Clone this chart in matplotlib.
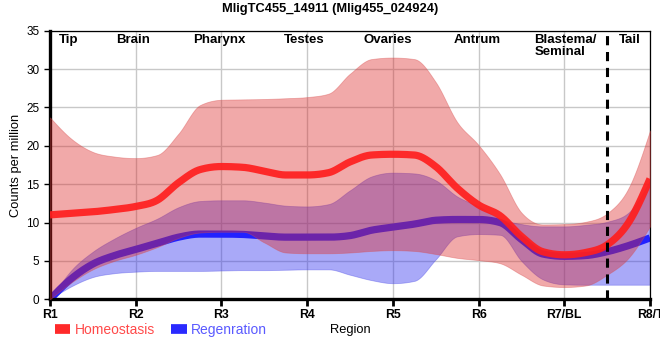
import numpy as np
import matplotlib
matplotlib.use("Agg")
import matplotlib.pyplot as plt
from matplotlib.lines import Line2D

plt.rcParams['font.family'] = ['Liberation Sans', 'DejaVu Sans']

title = "MligTC455_14911 (Mlig455_024924)"
regions = ["R1", "R2", "R3", "R4", "R5", "R6", "R7/BL", "R8/T"]
tissues = ["Tip", "Brain", "Pharynx", "Testes", "Ovaries", "Antrum", "Blastema/\nSeminal", "Tail"]
tissue_pos = [0.22, 0.97, 1.98, 2.96, 3.94, 4.98, 5.65, 6.77]

# sampled positions along the body axis (region units)
pos = np.arange(0, 7.001, 0.25)

homeo_mean = [11.0, 11.2, 11.4, 11.7, 12.1, 12.9, 15.2, 16.9, 17.3, 17.2, 16.7, 16.2, 16.2, 16.5,
              17.9, 18.8, 18.9, 18.8, 17.3, 14.5, 12.3, 10.9, 8.2, 6.2, 5.8, 6.1, 7.1, 10.0, 15.7]
homeo_upper = [23.7, 20.9, 19.2, 18.6, 18.4, 18.8, 21.6, 25.3, 26.0, 26.05, 26.1, 26.2, 26.35, 26.8,
               29.4, 31.3, 31.5, 31.3, 28.3, 23.1, 20.1, 16.3, 11.3, 9.75, 9.8, 10.1, 11.2, 14.5, 22.0]
homeo_lower = [0.0, 2.2, 3.9, 5.0, 5.8, 6.8, 8.0, 8.7, 8.8, 8.8, 7.4, 6.1, 6.0, 6.0,
               6.1, 6.3, 6.4, 6.3, 5.9, 5.4, 5.1, 4.7, 3.2, 1.8, 1.6, 1.8, 3.2, 5.4, 9.5]

regen_mean = [0.0, 2.7, 4.6, 5.7, 6.5, 7.3, 8.1, 8.5, 8.5, 8.45, 8.25, 8.1, 8.1, 8.1,
              8.3, 9.0, 9.4, 9.8, 10.3, 10.4, 10.4, 10.0, 7.8, 5.9, 5.6, 5.7, 6.2, 7.0, 8.0]
regen_upper = [0.0, 3.8, 6.2, 7.9, 9.3, 10.5, 12.0, 12.8, 12.9, 12.9, 12.6, 12.2, 12.1, 12.4,
               14.2, 16.0, 16.5, 16.4, 15.5, 13.4, 12.1, 10.5, 9.8, 9.5, 9.5, 9.7, 10.1, 11.3, 15.5]
regen_lower = [0.0, 1.7, 2.9, 3.4, 3.6, 3.7, 3.7, 3.7, 3.75, 3.8, 3.8, 3.85, 3.9, 3.9,
               3.2, 2.5, 2.1, 2.4, 5.2, 8.2, 8.5, 8.4, 5.0, 2.6, 1.95, 1.9, 1.9, 1.9, 1.9]


def monotone(x, y, xs):
    x = np.asarray(x, float); y = np.asarray(y, float)
    h = np.diff(x); s = np.diff(y) / h
    n = len(x); m = np.zeros(n)
    for i in range(1, n - 1):
        p = (s[i - 1] * h[i] + s[i] * h[i - 1]) / (h[i - 1] + h[i])
        m[i] = (np.sign(s[i - 1]) + np.sign(s[i])) * min(abs(s[i - 1]), abs(s[i]), 0.5 * abs(p))
    m[0] = (3 * s[0] - m[1]) / 2
    m[-1] = (3 * s[-1] - m[-2]) / 2
    idx = np.clip(np.searchsorted(x, xs) - 1, 0, n - 2)
    t = (xs - x[idx]) / h[idx]
    h00 = 2 * t**3 - 3 * t**2 + 1; h10 = t**3 - 2 * t**2 + t
    h01 = -2 * t**3 + 3 * t**2; h11 = t**3 - t**2
    return h00 * y[idx] + h10 * h[idx] * m[idx] + h01 * y[idx + 1] + h11 * h[idx] * m[idx + 1]


xs = np.linspace(0, 7, 1400)

fig = plt.figure(figsize=(6.6, 3.6), dpi=100)
ax = fig.add_axes([50 / 660, 1 - 299.3 / 360, 600 / 660, 268.6 / 360])

red_fill = (220 / 255, 40 / 255, 40 / 255)
blue_fill = (50 / 255, 50 / 255, 240 / 255)

ax.fill_between(xs, monotone(pos, regen_lower, xs), monotone(pos, regen_upper, xs),
                facecolor=blue_fill, alpha=0.42, edgecolor=(0.3, 0.3, 0.9, 0.5), lw=0.6, zorder=1)
ax.plot(xs, monotone(pos, regen_mean, xs), color="#2222ff", lw=5.2, zorder=2,
        solid_capstyle='butt')
ax.fill_between(xs, monotone(pos, homeo_lower, xs), monotone(pos, homeo_upper, xs),
                facecolor=red_fill, alpha=0.4, edgecolor=(0.85, 0.3, 0.3, 0.5), lw=0.6, zorder=3)
ax.plot(xs, monotone(pos, homeo_mean, xs), color="#ff1e1e", lw=5.2, alpha=0.92, zorder=4,
        solid_capstyle='butt')

ax.axvline(6.5, color='black', lw=2.2, ls=(0, (3, 2.2)), zorder=5)

ax.set_xlim(0, 7)
ax.set_ylim(0, 35)
ax.set_xticks(range(len(regions)))
ax.set_xticklabels(regions, fontweight='bold', fontsize=8.8)
ax.set_yticks(range(0, 36, 5))
ax.tick_params(axis='y', labelsize=8.5, length=4, width=1)
ax.tick_params(axis='x', length=5, width=2, pad=2)
ax.grid(True, color='#c8c8c8', lw=1)
ax.set_axisbelow(True)

for side in ['left', 'bottom']:
    ax.spines[side].set_linewidth(2.4)
for side in ['top', 'right']:
    ax.spines[side].set_linewidth(0.9)

for lab, xp in zip(tissues, tissue_pos):
    ha = 'left' if '\n' in lab else 'center'
    ax.text(xp, 34.6, lab, ha=ha, va='top', fontweight='bold', fontsize=9.5,
            linespacing=1.0, zorder=6)

fig.text(330 / 660, 1 - 9 / 360, title, ha='center', va='center', fontweight='bold', fontsize=9.3)
ax.set_ylabel("Counts per million", fontsize=9.3, labelpad=3)
fig.text(350 / 660, 1 - 330 / 360, "Region", ha='center', va='center', fontsize=9.3)

handles = [Line2D([], [], color='#ff2a2a', lw=7, solid_capstyle='butt'),
           Line2D([], [], color='#2a2aff', lw=7, solid_capstyle='butt')]
leg = fig.legend(handles, ["Homeostasis", "Regenration"], loc='center left',
                 bbox_to_anchor=(55 / 660, 1 - 330 / 360), ncol=2, frameon=False,
                 borderpad=0, borderaxespad=0,
                 fontsize=10, handlelength=1.1, handletextpad=0.3, columnspacing=1.2,
                 labelcolor=['#ff4a4a', '#5a5aff'])

fig.savefig("out.png", dpi=100)
